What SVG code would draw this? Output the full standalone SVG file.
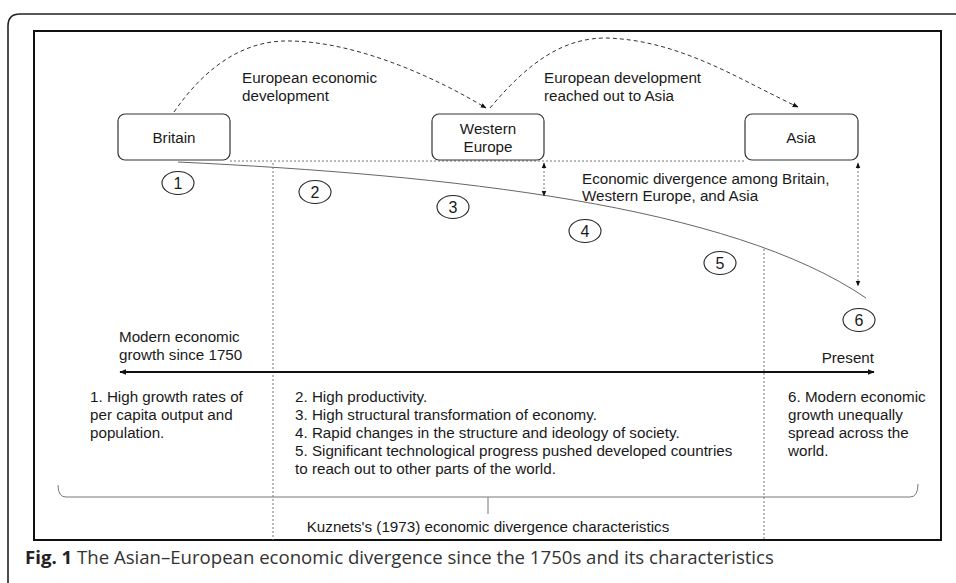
<svg xmlns="http://www.w3.org/2000/svg" width="956" height="583" viewBox="0 0 956 583">
<defs>
<style>
text{font-family:"Liberation Sans",Arial,sans-serif;font-size:15.2px;fill:#1a1a1a}
.node rect{fill:#fff;stroke:#333;stroke-width:1.2}
.num ellipse{fill:#fff;stroke:#222;stroke-width:1.1}
.num text{text-anchor:middle;font-size:16px}
.dash{fill:none;stroke:#333;stroke-width:1;stroke-dasharray:4 3}
.dot{fill:none;stroke:#777;stroke-width:1;stroke-dasharray:2 2}
.cap{font-family:"Open Sans","Noto Sans",sans-serif;font-size:18.6px;fill:#333}
</style>
<marker id="ah" viewBox="0 0 10 10" refX="9" refY="5" markerWidth="7" markerHeight="7" orient="auto-start-reverse" markerUnits="userSpaceOnUse"><path d="M0,1 L10,5 L0,9 z" fill="#111"/></marker>
<marker id="ahs" viewBox="0 0 10 10" refX="9" refY="5" markerWidth="6" markerHeight="6" orient="auto-start-reverse" markerUnits="userSpaceOnUse"><path d="M0,1 L10,5 L0,9 z" fill="#111"/></marker>
</defs>
<rect width="956" height="583" fill="#fff"/>
<path d="M8,600 L8,26 Q8,14 20,14 L970,14" fill="none" stroke="#222" stroke-width="1.6"/>
<rect x="34" y="31" width="907" height="509" fill="none" stroke="#111" stroke-width="2"/>

<g id="connectors">
<path class="dash" d="M174,112 C210,60 250,40 290,41 C360,42 440,80 486,108" marker-end="url(#ahs)"/>
<path class="dash" d="M490,108 C530,60 565,38 606,38 C680,40 740,80 798,107" marker-end="url(#ahs)"/>
<path class="dot" d="M230,161 L745,161"/>
<path d="M178,162 C450,175 730,205 866,298" fill="none" stroke="#666" stroke-width="1"/>
<path class="dot" d="M544,163 L544,196" marker-start="url(#ahs)" marker-end="url(#ahs)"/>
<path class="dot" d="M858,163 L858,286" marker-start="url(#ahs)" marker-end="url(#ahs)"/>
<path class="dot" d="M273,163 L273,540"/>
<path class="dot" d="M764,249 L764,540"/>
<path d="M120,372 L874,372" stroke="#111" stroke-width="2" fill="none" marker-start="url(#ah)" marker-end="url(#ah)"/>
<path d="M58,485 Q58,497 66,497 L910,497 Q918,497 918,484 M488,497 L488,514" fill="none" stroke="#777" stroke-width="1"/>
</g>

<g id="britain" class="node"><rect x="118" y="114" width="112" height="46" rx="7"/><text x="174" y="143" text-anchor="middle">Britain</text></g>
<g id="western-europe" class="node"><rect x="432" y="114" width="112" height="46" rx="7"/><text x="488" y="134" text-anchor="middle">Western</text><text x="488" y="152" text-anchor="middle">Europe</text></g>
<g id="asia" class="node"><rect x="745" y="114" width="113" height="46" rx="7"/><text x="801" y="143" text-anchor="middle">Asia</text></g>

<g id="n1" class="num"><ellipse cx="178" cy="183" rx="16" ry="11.5"/><text x="178" y="189">1</text></g>
<g id="n2" class="num"><ellipse cx="315" cy="192" rx="16" ry="11.5"/><text x="315" y="198">2</text></g>
<g id="n3" class="num"><ellipse cx="453" cy="207" rx="16" ry="11.5"/><text x="453" y="213">3</text></g>
<g id="n4" class="num"><ellipse cx="585" cy="231" rx="16" ry="11.5"/><text x="585" y="237">4</text></g>
<g id="n5" class="num"><ellipse cx="720" cy="263" rx="16" ry="11.5"/><text x="720" y="269">5</text></g>
<g id="n6" class="num"><ellipse cx="859" cy="320" rx="16" ry="11.5"/><text x="859" y="326">6</text></g>

<g id="labels">
<text x="242" y="83">European economic</text>
<text x="242" y="101">development</text>
<text x="544" y="83">European development</text>
<text x="544" y="101">reached out to Asia</text>
<text x="582" y="184">Economic divergence among Britain,</text>
<text x="582" y="201">Western Europe, and Asia</text>
<text x="119" y="342">Modern economic</text>
<text x="119" y="360">growth since 1750</text>
<text x="874" y="363" text-anchor="end">Present</text>
<text x="90" y="402">1. High growth rates of</text>
<text x="90" y="420">per capita output and</text>
<text x="90" y="438">population.</text>
<text x="295" y="402">2. High productivity.</text>
<text x="295" y="420">3. High structural transformation of economy.</text>
<text x="295" y="438">4. Rapid changes in the structure and ideology of society.</text>
<text x="295" y="456">5. Significant technological progress pushed developed countries</text>
<text x="295" y="474">to reach out to other parts of the world.</text>
<text x="788" y="402">6. Modern economic</text>
<text x="788" y="420">growth unequally</text>
<text x="788" y="438">spread across the</text>
<text x="788" y="456">world.</text>
<text x="488" y="532" text-anchor="middle">Kuznets's (1973) economic divergence characteristics</text>
</g>
<text class="cap" x="25" y="564"><tspan font-weight="bold" fill="#222">Fig. 1</tspan> The Asian–European economic divergence since the 1750s and its characteristics</text>
</svg>
